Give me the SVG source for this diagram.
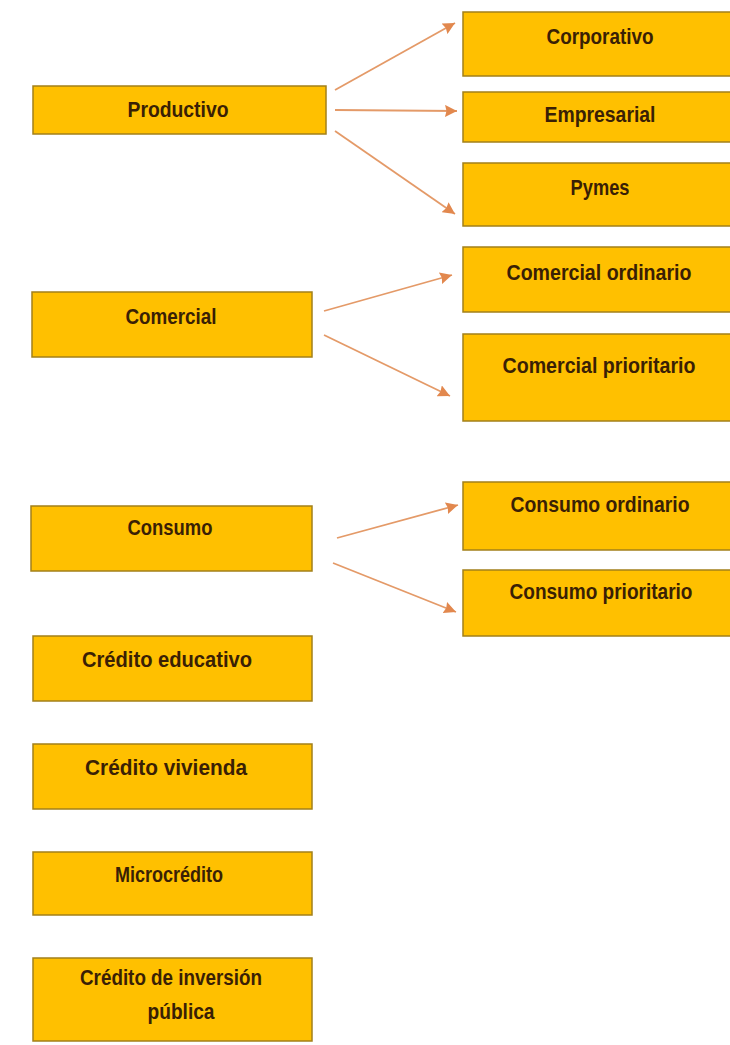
<svg xmlns="http://www.w3.org/2000/svg" width="730" height="1045" viewBox="0 0 730 1045">
<defs>
<style>
.box{fill:#FFC000;stroke:#A3801A;stroke-width:1.5}
.lbl{font-family:"Liberation Sans",Arial,sans-serif;font-size:22px;font-weight:bold;fill:#3A1F05;text-anchor:middle}
.conn{stroke:#E49A68;stroke-width:1.8;fill:none}
</style>
<marker id="ah" viewBox="0 0 12 12" refX="12" refY="6" markerWidth="12" markerHeight="12" markerUnits="userSpaceOnUse" orient="auto">
<path d="M0,0 L12,6 L0,12 L1.5,6 z" fill="#E2884E"/>
</marker>
</defs>
<rect width="730" height="1045" fill="#FFFFFF"/>
<g id="connectors">
<line class="conn" x1="335" y1="90" x2="455" y2="23" marker-end="url(#ah)"/>
<line class="conn" x1="335" y1="110" x2="457" y2="111" marker-end="url(#ah)"/>
<line class="conn" x1="335" y1="131" x2="455" y2="214" marker-end="url(#ah)"/>
<line class="conn" x1="324" y1="311" x2="452" y2="275" marker-end="url(#ah)"/>
<line class="conn" x1="324" y1="335" x2="450" y2="396" marker-end="url(#ah)"/>
<line class="conn" x1="337" y1="538" x2="458" y2="505" marker-end="url(#ah)"/>
<line class="conn" x1="333" y1="563" x2="456" y2="612" marker-end="url(#ah)"/>
</g>
<g id="productivo"><rect class="box" x="33" y="86" width="293" height="48"/><text class="lbl" x="178" y="117" textLength="101" lengthAdjust="spacingAndGlyphs">Productivo</text></g>
<g id="corporativo"><rect class="box" x="463" y="12" width="274" height="64"/><text class="lbl" x="600" y="44" textLength="107" lengthAdjust="spacingAndGlyphs">Corporativo</text></g>
<g id="empresarial"><rect class="box" x="463" y="92" width="274" height="50"/><text class="lbl" x="600" y="122" textLength="111" lengthAdjust="spacingAndGlyphs">Empresarial</text></g>
<g id="pymes"><rect class="box" x="463" y="163" width="274" height="63"/><text class="lbl" x="600" y="195" textLength="59" lengthAdjust="spacingAndGlyphs">Pymes</text></g>
<g id="comercial"><rect class="box" x="32" y="292" width="280" height="65"/><text class="lbl" x="171" y="324" textLength="91" lengthAdjust="spacingAndGlyphs">Comercial</text></g>
<g id="comercial-ordinario"><rect class="box" x="463" y="247" width="274" height="65"/><text class="lbl" x="599" y="280" textLength="185" lengthAdjust="spacingAndGlyphs">Comercial ordinario</text></g>
<g id="comercial-prioritario"><rect class="box" x="463" y="334" width="274" height="87"/><text class="lbl" x="599" y="373" textLength="193" lengthAdjust="spacingAndGlyphs">Comercial prioritario</text></g>
<g id="consumo"><rect class="box" x="31" y="506" width="281" height="65"/><text class="lbl" x="170" y="535" textLength="85" lengthAdjust="spacingAndGlyphs">Consumo</text></g>
<g id="consumo-ordinario"><rect class="box" x="463" y="482" width="274" height="68"/><text class="lbl" x="600" y="512" textLength="179" lengthAdjust="spacingAndGlyphs">Consumo ordinario</text></g>
<g id="consumo-prioritario"><rect class="box" x="463" y="570" width="274" height="66"/><text class="lbl" x="601" y="599" textLength="183" lengthAdjust="spacingAndGlyphs">Consumo prioritario</text></g>
<g id="credito-educativo"><rect class="box" x="33" y="636" width="279" height="65"/><text class="lbl" x="167" y="667" textLength="170" lengthAdjust="spacingAndGlyphs">Crédito educativo</text></g>
<g id="credito-vivienda"><rect class="box" x="33" y="744" width="279" height="65"/><text class="lbl" x="166" y="775" textLength="162" lengthAdjust="spacingAndGlyphs">Crédito vivienda</text></g>
<g id="microcredito"><rect class="box" x="33" y="852" width="279" height="63"/><text class="lbl" x="169" y="882" textLength="108" lengthAdjust="spacingAndGlyphs">Microcrédito</text></g>
<g id="credito-inversion"><rect class="box" x="33" y="958" width="279" height="83"/><text class="lbl" x="171" y="985" textLength="182" lengthAdjust="spacingAndGlyphs">Crédito de inversión</text><text class="lbl" x="181" y="1019" textLength="67" lengthAdjust="spacingAndGlyphs">pública</text></g>
</svg>
